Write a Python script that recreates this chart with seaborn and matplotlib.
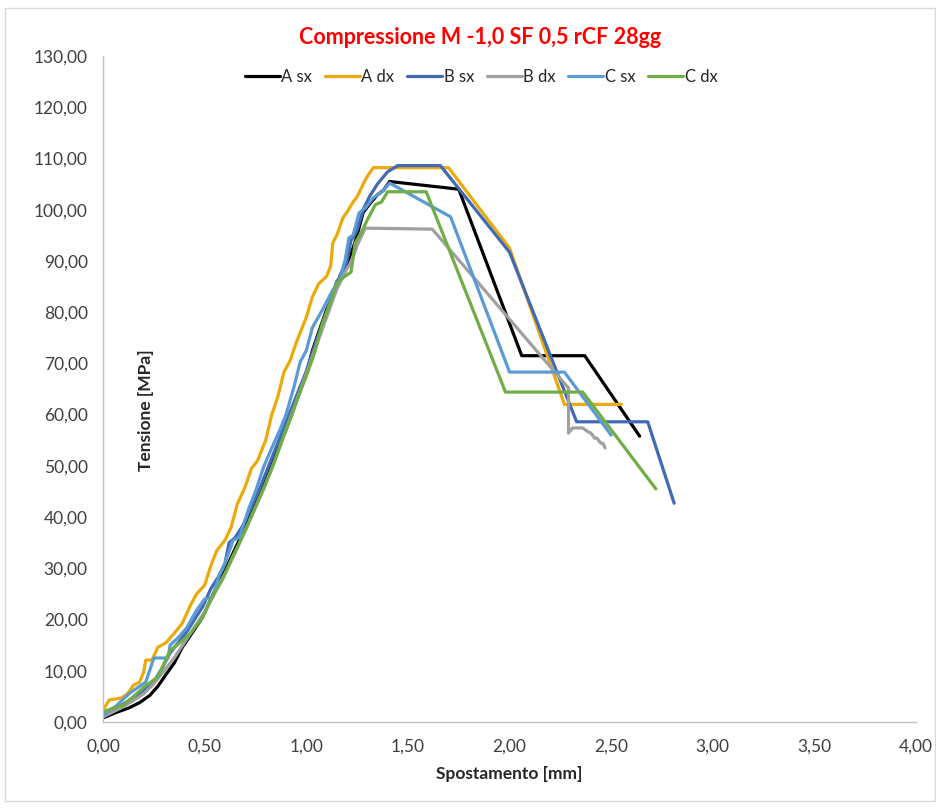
import numpy as np
import pandas as pd
import matplotlib
matplotlib.use("Agg")
import matplotlib.pyplot as plt
from matplotlib.patches import Rectangle
from matplotlib.ticker import FuncFormatter, MultipleLocator
import seaborn as sns

# --- data (spostamento [mm], tensione [MPa]) ---
a_sx_x = [0.00, 0.06, 0.13, 0.18, 0.23, 0.27, 0.31, 0.35, 0.39, 0.44, 0.49, 0.53, 0.56, 0.60, 0.64,
          0.67, 0.70, 0.74, 0.77, 0.80, 0.84, 0.87, 0.90, 0.93, 0.96, 1.00, 1.03, 1.06, 1.10, 1.13,
          1.17, 1.20, 1.23, 1.25, 1.28, 1.32, 1.35, 1.38, 1.41, 1.75, 2.06, 2.37, 2.64]
a_sx_y = [0.8, 1.8, 2.8, 3.8, 5.2, 7.0, 9.3, 11.5, 14.6, 17.5, 20.5, 24.0, 26.5, 29.5, 33.0,
          35.5, 38.5, 41.5, 44.5, 47.5, 51.5, 54.5, 57.0, 60.5, 63.5, 68.0, 72.5, 76.0, 80.5, 83.0,
          87.5, 89.5, 92.5, 95.0, 99.5, 101.5, 102.9, 103.8, 105.5, 104.0, 71.5, 71.5, 55.8]

a_dx_x = [0.00, 0.03, 0.09, 0.12, 0.15, 0.18, 0.20, 0.21, 0.24, 0.27, 0.31, 0.35, 0.39, 0.43, 0.46,
          0.50, 0.53, 0.56, 0.60, 0.63, 0.66, 0.70, 0.73, 0.76, 0.80, 0.83, 0.86, 0.89, 0.92, 0.95,
          0.97, 1.00, 1.03, 1.06, 1.10, 1.12, 1.13, 1.15, 1.18, 1.20, 1.23, 1.25, 1.28, 1.30, 1.33,
          1.70, 2.00, 2.27, 2.55]
a_dx_y = [2.3, 4.3, 4.7, 5.5, 7.2, 7.8, 9.8, 12.1, 12.1, 14.6, 15.5, 17.3, 19.3, 22.8, 25.0,
          26.7, 30.5, 33.5, 35.5, 38.0, 42.5, 46.0, 49.5, 51.0, 55.0, 60.0, 63.5, 68.3, 70.5, 74.0,
          76.0, 79.0, 83.0, 85.5, 87.0, 89.0, 93.5, 95.0, 98.4, 99.5, 101.5, 102.5, 105.0, 106.5, 108.2,
          108.2, 92.5, 62.0, 62.0]

b_sx_x = [0.00, 0.05, 0.10, 0.15, 0.20, 0.25, 0.29, 0.33, 0.37, 0.41, 0.45, 0.49, 0.53, 0.57, 0.60,
          0.62, 0.65, 0.69, 0.73, 0.77, 0.81, 0.85, 0.89, 0.93, 0.97, 1.00, 1.05, 1.10, 1.15, 1.18,
          1.20, 1.22, 1.25, 1.28, 1.31, 1.35, 1.40, 1.45, 1.66, 2.00, 2.33, 2.68, 2.81]
b_sx_y = [1.5, 2.5, 3.5, 4.8, 6.2, 7.8, 10.5, 13.5, 15.5, 17.5, 20.0, 22.5, 26.0, 28.5, 31.0,
          35.0, 36.0, 38.5, 42.0, 45.5, 49.5, 53.5, 57.5, 61.5, 65.5, 68.5, 74.5, 80.0, 86.0, 87.5,
          90.0, 94.0, 96.0, 100.0, 102.5, 105.0, 107.4, 108.6, 108.6, 91.7, 58.6, 58.6, 42.7]

b_dx_x = [0.00, 0.05, 0.10, 0.15, 0.20, 0.25, 0.30, 0.35, 0.40, 0.45, 0.50, 0.55, 0.60, 0.65, 0.70,
          0.75, 0.80, 0.85, 0.90, 0.95, 1.00, 1.05, 1.10, 1.15, 1.20, 1.22, 1.25, 1.29, 1.62, 2.29,
          2.29, 2.31, 2.36, 2.38, 2.40, 2.42, 2.43, 2.45, 2.46, 2.47]
b_dx_y = [1.0, 2.0, 3.0, 4.2, 5.5, 7.5, 10.0, 12.5, 15.5, 18.5, 21.5, 25.5, 29.0, 33.0, 37.5,
          42.0, 46.5, 51.5, 57.0, 62.5, 68.0, 73.5, 79.0, 84.5, 88.5, 89.6, 93.0, 96.4, 96.2, 65.2,
          56.4, 57.4, 57.4, 56.8, 56.4, 55.4, 55.4, 54.4, 54.4, 53.5]

c_sx_x = [0.00, 0.06, 0.13, 0.18, 0.21, 0.25, 0.32, 0.33, 0.37, 0.41, 0.46, 0.50, 0.54, 0.57, 0.60,
          0.64, 0.67, 0.72, 0.75, 0.79, 0.83, 0.87, 0.90, 0.94, 0.97, 1.00, 1.03, 1.08, 1.13, 1.16,
          1.19, 1.21, 1.23, 1.26, 1.29, 1.33, 1.38, 1.41, 1.71, 2.00, 2.27, 2.50]
c_sx_y = [1.3, 3.0, 5.6, 7.0, 7.8, 12.5, 12.5, 15.0, 16.5, 18.3, 21.8, 24.0, 24.4, 28.5, 31.0,
          35.5, 36.0, 42.0, 45.0, 49.8, 53.5, 57.0, 60.0, 65.5, 70.3, 72.5, 77.0, 80.5, 84.3, 86.0,
          90.0, 94.5, 95.0, 99.4, 100.3, 102.3, 103.8, 105.2, 98.6, 68.3, 68.3, 56.0]

c_dx_x = [0.00, 0.05, 0.10, 0.15, 0.20, 0.27, 0.33, 0.38, 0.43, 0.49, 0.54, 0.59, 0.64, 0.69, 0.74,
          0.79, 0.84, 0.89, 0.93, 0.96, 1.00, 1.04, 1.08, 1.12, 1.15, 1.19, 1.22, 1.24, 1.27, 1.30,
          1.34, 1.37, 1.40, 1.59, 1.98, 2.36, 2.72]
c_dx_y = [2.0, 2.7, 3.3, 5.0, 6.8, 8.8, 14.0, 15.5, 17.3, 20.5, 24.5, 28.0, 32.5, 36.5, 41.0,
          45.5, 50.5, 56.0, 60.0, 63.5, 67.5, 72.0, 77.9, 82.0, 85.7, 87.0, 87.8, 93.5, 95.5, 98.0,
          101.0, 101.5, 103.5, 103.5, 64.4, 64.4, 45.5]

series_names = ["A sx", "A dx", "B sx", "B dx", "C sx", "C dx"]
series_x = [a_sx_x, a_dx_x, b_sx_x, b_dx_x, c_sx_x, c_dx_x]
series_y = [a_sx_y, a_dx_y, b_sx_y, b_dx_y, c_sx_y, c_dx_y]
colors = ["#000000", "#EBAA0A", "#4169B4", "#A0A0A0", "#5B9BD5", "#70AD47"]

df = pd.concat(
    [pd.DataFrame({"Spostamento": x, "Tensione": y, "serie": n})
     for n, x, y in zip(series_names, series_x, series_y)],
    ignore_index=True,
)

sns.set_style("white")
plt.rcParams["font.family"] = ["Lato", "DejaVu Sans"]

fig = plt.figure(figsize=(9.37, 8.09), dpi=100)
ax = fig.add_axes([0.110, 0.1075, 0.8676, 0.8233])

sns.lineplot(data=df, x="Spostamento", y="Tensione", hue="serie", hue_order=series_names,
             palette=dict(zip(series_names, colors)), sort=False, estimator=None,
             units="serie", linewidth=2.3, ax=ax)

ax.set_xlim(0, 4)
ax.set_ylim(0, 130)
ax.xaxis.set_major_locator(MultipleLocator(0.5))
ax.yaxis.set_major_locator(MultipleLocator(10))
comma = FuncFormatter(lambda v, p: f"{v:.2f}".replace(".", ","))
ax.xaxis.set_major_formatter(comma)
ax.yaxis.set_major_formatter(comma)
ax.tick_params(axis="x", direction="in", length=5, color="#BFBFBF", labelsize=12.5,
               labelcolor="#404040", pad=12)
ax.tick_params(axis="y", direction="out", length=5, color="#BFBFBF", labelsize=12.5,
               labelcolor="#404040", pad=6)

sns.despine(ax=ax)
for s in ["left", "bottom"]:
    ax.spines[s].set_color("#BFBFBF")
    ax.spines[s].set_linewidth(1.0)

ax.set_xlabel("Spostamento [mm]", fontsize=12.5, fontweight="bold", labelpad=8)
ax.set_ylabel("Tensione [MPa]", fontsize=12.5, fontweight="bold")
ax.yaxis.set_label_coords(0.063, 0.468)

handles, labels = ax.get_legend_handles_labels()
ax.legend(handles, labels, ncol=6, loc="center", bbox_to_anchor=(0.465, 0.968),
          frameon=False, fontsize=12, handlelength=2.1, handletextpad=0.1,
          columnspacing=0.75)

fig.text(0.512, 0.954, "Compressione M -1,0 SF 0,5 rCF 28gg", color="#FF0000",
         fontsize=15.5, fontweight="bold", ha="center", va="center")

fig.patches.append(Rectangle((0.005, 0.01), 0.993, 0.98, transform=fig.transFigure,
                             fill=False, edgecolor="#D9D9D9", linewidth=1.0))

fig.savefig("out.png", dpi=100)
